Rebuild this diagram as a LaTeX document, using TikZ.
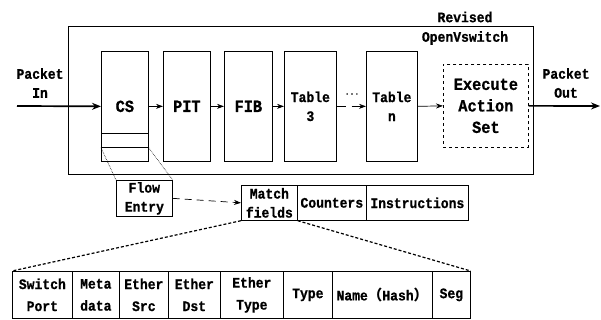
\documentclass[tikz,border=0pt]{standalone}
\usepackage{fontspec}
\setmainfont{Liberation Mono}[BoldFeatures={FakeStretch=0.9,FakeBold=0.8}]
\newfontfamily\cjk{Noto Sans CJK SC}
\usetikzlibrary{arrows.meta}
\begin{document}
\begin{tikzpicture}[x=1pt,y=-1pt,
  every node/.style={font=\fontsize{14.5}{19}\selectfont\bfseries, align=center},
  bx/.style={draw, line width=0.7pt, anchor=north west, inner sep=0pt},
  cell/.style={bx, minimum height=47pt, font=\fontsize{14.5}{22}\selectfont\bfseries},
  lbl/.style={inner sep=0pt},
  bigtxt/.style={font=\fontsize{17}{21.5}\selectfont\bfseries},
  arr/.style={line width=0.7pt, -{Stealth[length=7pt,width=5pt]}},
  big/.style={line width=1.7pt, -{Stealth[length=9pt,width=7pt]}}]
\useasboundingbox (0,0) rectangle (601,320);
% outer switch
\node[bx, minimum width=465pt, minimum height=148pt] (sw) at (68,26) {};
\node[lbl] (rev) at (465,17) {Revised};
\node[lbl] (ovs) at (465,38) {OpenVswitch};
% pipeline
\node[bx, bigtxt, minimum width=47pt, minimum height=110pt] (cs) at (101,51) {CS};
\node[bx, minimum width=47pt, minimum height=14pt] (fe) at (101,133) {};
\node[bx, bigtxt, minimum width=47pt, minimum height=110pt] (pit) at (163,51) {PIT};
\node[bx, bigtxt, minimum width=48pt, minimum height=110pt] (fib) at (224,51) {FIB};
\node[bx, minimum width=52pt, minimum height=110pt] (t3) at (284,51) {Table\\3};
\node[bx, minimum width=51pt, minimum height=110pt] (tn) at (366,51) {Table\\n};
\node[bx, dashed, bigtxt, minimum width=85pt, minimum height=83pt] (ex) at (443,64) {Execute\\Action\\Set};
\node[lbl] (pin) at (40,83) {Packet\\In};
\node[lbl] (pout) at (566,83) {Packet\\Out};
\node[lbl, font=\fontsize{9}{9}\selectfont\bfseries] (dots) at (352,94) {...};
\coordinate (inS) at (17,106);
\coordinate (outE) at (600,106);
\draw[big] (inS) -- (cs.west);
\draw[big] (ex.east) -- (outE);
\draw[arr] (cs.east) -- (pit.west);
\draw[arr] (pit.east) -- (fib.west);
\draw[arr] (fib.east) -- (t3.west);
\draw[arr, dash pattern=on 9pt off 6pt on 20pt] (t3.east) -- (tn.west);
\draw[arr] (tn.east) -- (ex.west);
% flow entry
\node[bx, minimum width=56pt, minimum height=36pt] (flow) at (116,180) {Flow\\Entry};
\draw[densely dotted, line width=0.6pt] (fe.south west) -- (flow.north west);
\draw[densely dotted, line width=0.6pt] (fe.south east) -- (flow.north east);
\node[bx, minimum width=56pt, minimum height=35pt] (mf) at (241,185) {Match\\fields};
\node[bx, minimum width=69pt, minimum height=35pt] (cnt) at (297,185) {Counters};
\node[bx, minimum width=102pt, minimum height=35pt] (ins) at (366,185) {Instructions};
\draw[arr, dashed, dash pattern=on 7pt off 5pt] (flow.east) -- (mf.west);
% match field table
\node[cell, minimum width=60pt] (c1) at (12,271) {Switch\\Port};
\node[cell, minimum width=47pt] (c2) at (72,271) {Meta\\data};
\node[cell, minimum width=49pt] (c3) at (119,271) {Ether\\Src};
\node[cell, minimum width=52pt] (c4) at (168,271) {Ether\\Dst};
\node[cell, minimum width=63pt] (c5) at (220,271) {Ether\\Type};
\node[cell, minimum width=49pt] (c6) at (283,271) {Type};
\node[cell, minimum width=100pt] (c7) at (332,271) {Name{\cjk\bfseries （}Hash{\cjk\bfseries ）}};
\node[cell, minimum width=38pt] (c8) at (432,271) {Seg};
\draw[line width=1.2pt, dash pattern=on 3pt off 2pt] (mf.south west) -- (c1.north west);
\draw[line width=1.2pt, dash pattern=on 3pt off 2pt] (mf.south east) -- (c8.north east);
\end{tikzpicture}
\end{document}
